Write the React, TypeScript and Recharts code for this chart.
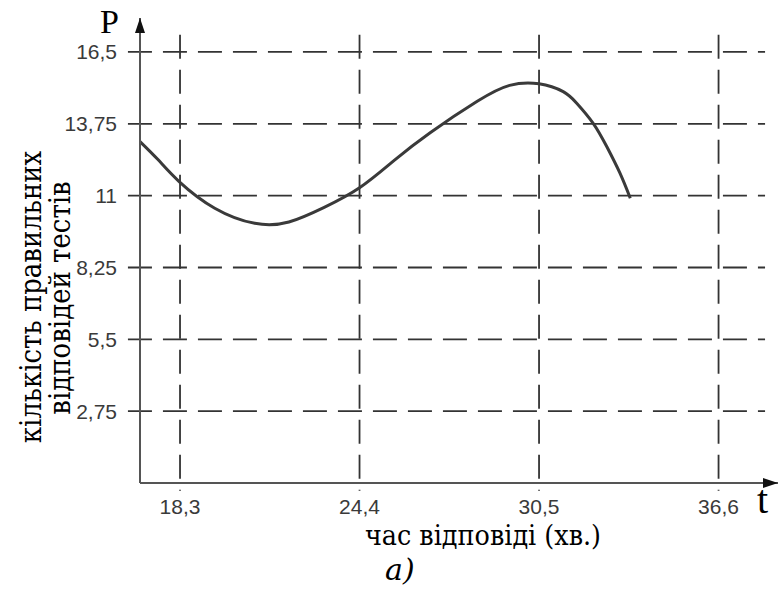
import React from "react";
import { LineChart, Line, XAxis, YAxis, ReferenceLine, ReferenceDot } from "recharts";

// Data
const tValues = [16.94, 17.55, 18.27, 19.48, 20.84, 22.0, 23.2, 24.4, 25.6, 26.8, 28.4, 29.5, 30.5, 31.32, 31.78, 32.34, 32.8, 33.25, 33.6];
const pValues = [13.07, 12.38, 11.54, 10.52, 9.94, 9.99, 10.55, 11.3, 12.37, 13.41, 14.61, 15.22, 15.28, 14.98, 14.54, 13.77, 12.88, 11.86, 10.9];

const xTicks = [18.3, 24.4, 30.5, 36.6];
const xTickLabels = ["18,3", "24,4", "30,5", "36,6"];
const yTicks = [2.75, 5.5, 8.25, 11, 13.75, 16.5];
const yTickLabels = ["2,75", "5,5", "8,25", "11", "13,75", "16,5"];

const xDomain: [number, number] = [16.94, 38.62];
const yDomain: [number, number] = [0, 17.8];

const yAxisTitle = ["кількість правильних", "відповідей тестів"];
const xAxisTitle = "час відповіді (хв.)";
const caption = "а)";

const data = tValues.map((t, i) => ({ t, p: pValues[i] }));

const hGridFrom = 16.53;
const hGridTo = 38.18;
const vGridTop = 17.16;
const vGridBottom = -0.3;

const serif = "'Liberation Serif', 'Times New Roman', serif";
const cyrSerif = "'DejaVu Serif', serif";
const sans = "'Liberation Sans', Arial, sans-serif";

const gridStyle = { stroke: "#333", strokeWidth: 1.8, strokeDasharray: "24 11" };

const UpArrow = (props: any) => {
  const { cx, cy } = props;
  return <polygon points={`${cx},${cy} ${cx - 5},${cy + 15} ${cx + 5},${cy + 15}`} fill="#111" />;
};
const RightArrow = (props: any) => {
  const { cx, cy } = props;
  return <polygon points={`${cx},${cy} ${cx - 15},${cy - 5} ${cx - 15},${cy + 5}`} fill="#111" />;
};

export default function App() {
  return (
    <div style={{ position: "absolute", left: 0, top: 0, width: 779, height: 589, background: "#fff" }}>
      <LineChart width={779} height={589} data={data} margin={{ top: 18, right: 1, bottom: 76, left: 80 }}>
        <XAxis
          dataKey="t"
          type="number"
          domain={xDomain}
          allowDataOverflow
          ticks={xTicks}
          tickFormatter={(v: number) => xTickLabels[xTicks.indexOf(v)] ?? String(v)}
          tickLine={false}
          tickSize={6}
          tickMargin={10}
          height={30}
          axisLine={{ stroke: "#555", strokeWidth: 2 }}
          tick={{ fill: "#3a3a3a", fontSize: 21, fontFamily: sans }}
          interval={0}
        />
        <YAxis
          type="number"
          domain={yDomain}
          allowDataOverflow
          ticks={yTicks}
          tickFormatter={(v: number) => yTickLabels[yTicks.indexOf(v)] ?? String(v)}
          tickLine={false}
          tickSize={6}
          tickMargin={17}
          width={60}
          axisLine={{ stroke: "#555", strokeWidth: 2 }}
          tick={{ fill: "#3a3a3a", fontSize: 21, fontFamily: sans }}
          interval={0}
        />
        {yTicks.map((y) => (
          <ReferenceLine
            key={"h" + y}
            segment={[{ x: hGridFrom, y }, { x: hGridTo, y }]}
            ifOverflow="visible"
            {...gridStyle}
          />
        ))}
        {xTicks.map((x) => (
          <ReferenceLine
            key={"v" + x}
            segment={[{ x, y: vGridTop }, { x, y: vGridBottom }]}
            ifOverflow="visible"
            {...gridStyle}
          />
        ))}
        <Line
          type="natural"
          dataKey="p"
          stroke="#3a3a3a"
          strokeWidth={3}
          dot={false}
          isAnimationActive={false}
        />
        <ReferenceDot x={xDomain[0]} y={yDomain[1]} ifOverflow="visible" shape={UpArrow} />
        <ReferenceDot x={xDomain[1]} y={yDomain[0]} ifOverflow="visible" shape={RightArrow} />
      </LineChart>
      <svg width={779} height={589} style={{ position: "absolute", left: 0, top: 0, pointerEvents: "none" }}>
        <text x={100} y={33} fontFamily={serif} fontSize={34} fill="#000">P</text>
        <text x={757} y={513} fontFamily={serif} fontSize={40} fill="#000">t</text>
        <text transform="translate(483, 545) scale(1, 1.1)" textAnchor="middle" fontFamily={cyrSerif} fontSize={25.5} fill="#000">{xAxisTitle}</text>
        <text x={385} y={580} fontFamily={cyrSerif} fontSize={30} fontStyle="italic" fill="#000">{caption}</text>
        <text transform="translate(41, 297) rotate(-90) scale(1, 1.15)" textAnchor="middle" fontFamily={cyrSerif} fontSize={26} fill="#000">{yAxisTitle[0]}</text>
        <text transform="translate(70, 298) rotate(-90) scale(1, 1.15)" textAnchor="middle" fontFamily={cyrSerif} fontSize={26} fill="#000">{yAxisTitle[1]}</text>
      </svg>
    </div>
  );
}
